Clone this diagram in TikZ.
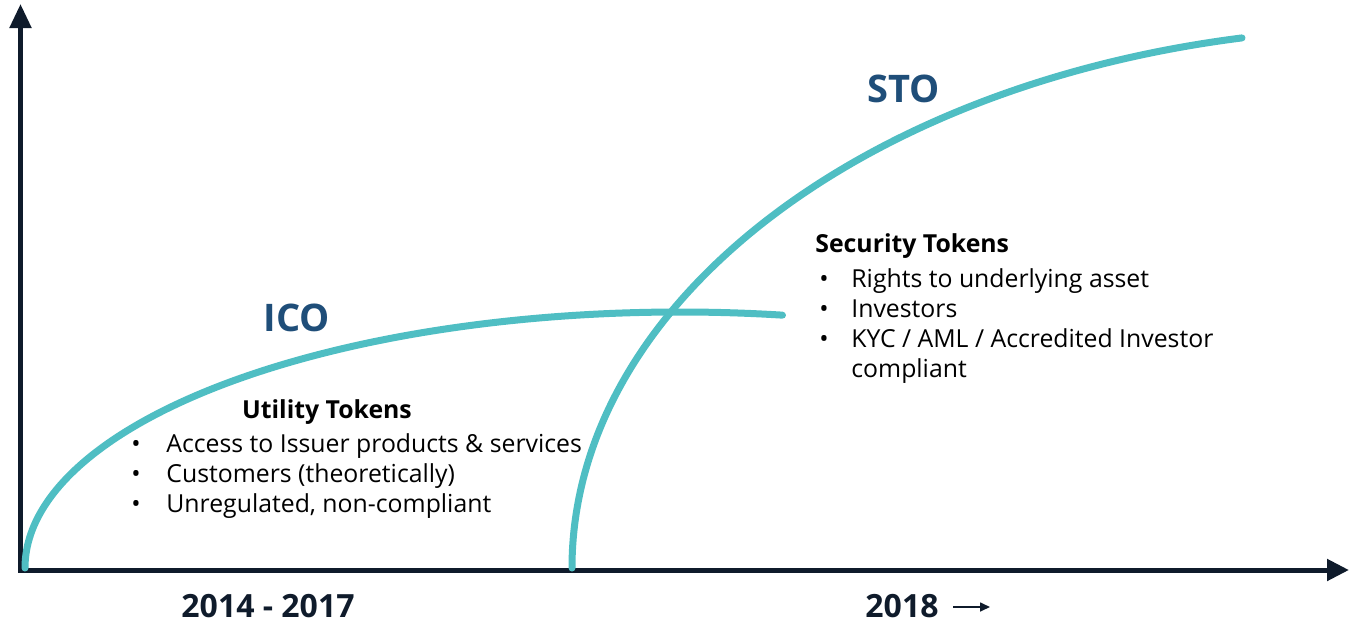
\documentclass[tikz,border=0pt]{standalone}
\usepackage{fontspec}
\setmainfont{Open Sans}
\usetikzlibrary{arrows.meta, positioning}
\definecolor{axisnavy}{HTML}{0F1B2B}
\definecolor{curveteal}{HTML}{4FBEC3}
\definecolor{phaseblue}{HTML}{1F4E79}
\newcommand{\itm}[1][17.5pt]{\makebox[#1][l]{\textbullet}}
\tikzset{
  x=0.5pt, y=-0.5pt,
  axis/.style={line width=2.5pt, draw=axisnavy, line join=miter,
    {Triangle[width=10.5pt,length=12pt]}-{Triangle[width=10.5pt,length=11pt]}},
  curve/.style={line width=3.5pt, draw=curveteal, line cap=round},
  phase/.style={font=\bfseries\fontsize{19}{22}\selectfont, text=phaseblue},
  heading/.style={font=\bfseries\fontsize{12.4}{15}\selectfont, inner sep=0pt},
  items/.style={font=\fontsize{12.4}{15}\selectfont, align=left, inner sep=0pt},
  year/.style={font=\bfseries\fontsize{16}{19}\selectfont, text=axisnavy, inner sep=0pt},
  timearrow/.style={line width=0.8pt, draw=axisnavy, -{Triangle[width=4.5pt,length=5pt]}},
}
\begin{document}
\begin{tikzpicture}
  \useasboundingbox (0,0) rectangle (1350,621);

  % axes
  \coordinate (origin) at (20.5,570);
  \coordinate (ytop)   at (20.5,4);
  \coordinate (xend)   at (1349,570);
  \draw[axis] (ytop) -- (origin) -- (xend);

  % growth curves
  \coordinate (icostart) at (25,568);
  \coordinate (stostart) at (572,568);
  \draw[curve] (icostart) arc[start angle=180, end angle=81, x radius=327.5pt, y radius=128pt];
  \draw[curve] (stostart) arc[start angle=180, end angle=101, x radius=414pt, y radius=270pt];

  \node[phase] (ico) at (297,318) {ICO};
  \node[phase] (sto) at (904,89)  {STO};

  % utility tokens
  \node[heading] (utility) at (327,412) {Utility Tokens};
  \node[items, anchor=west] (utilitylist) at (131,476) {%
    \itm Access to Issuer products \& services\\
    \itm Customers (theoretically)\\
    \itm Unregulated, non-compliant};

  % security tokens
  \node[heading, anchor=west] (security) at (815,246) {Security Tokens};
  \node[items, anchor=west] (securitylist) at (819,326) {%
    \itm[16pt]Rights to underlying asset\\
    \itm[16pt]Investors\\
    \itm[16pt]KYC / AML / Accredited Investor\\
    \hspace*{16pt}compliant};

  % time labels
  \node[year] (early) at (268,606) {2014 - 2017};
  \node[year] (late)  at (902,606) {2018};
  \coordinate (onstart) at (953,607);
  \coordinate (onend)   at (990,607);
  \draw[timearrow] (onstart) -- (onend);
\end{tikzpicture}
\end{document}
